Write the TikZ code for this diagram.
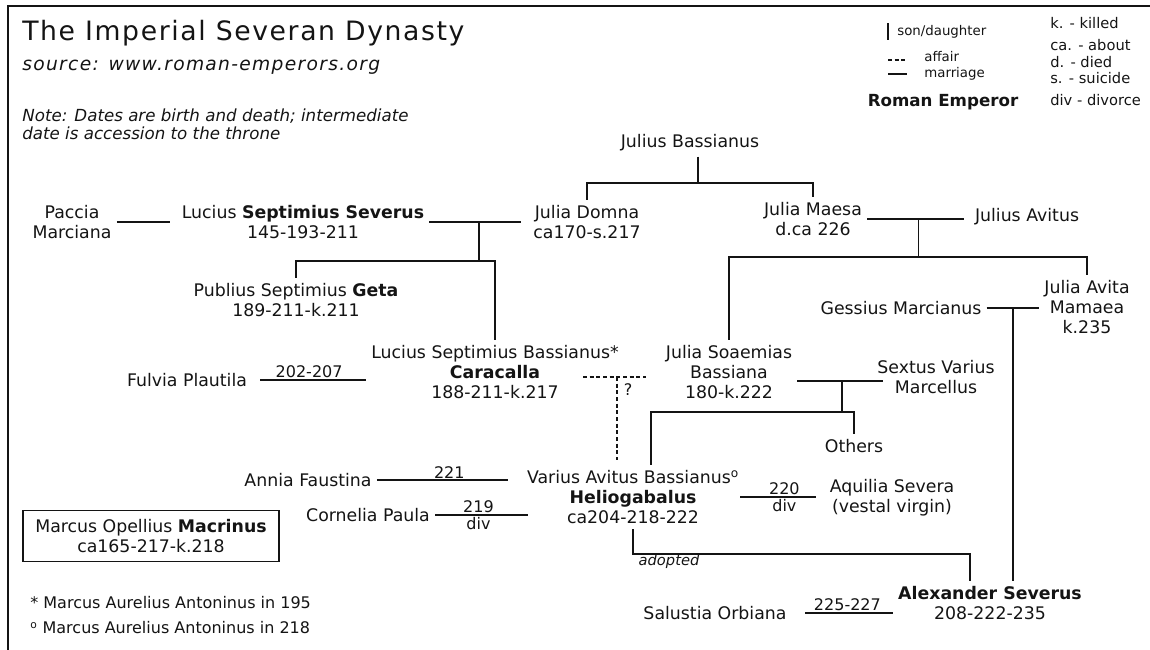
\documentclass[tikz,border=0pt]{standalone}
\usepackage{fontspec}
\setmainfont{DejaVu Sans}
\newfontfamily\headfont[LetterSpace=6]{DejaVu Sans}
\newfontfamily\srcfont[LetterSpace=7]{DejaVu Sans}
\definecolor{famK}{RGB}{20,20,20}

\begin{document}
\begin{tikzpicture}[x=0.75pt,y=-0.75pt,
  every node/.style={inner sep=1pt,outer sep=3pt,align=center,text=famK,font=\fontsize{13}{15}\selectfont},
  kin/.style={line width=1.3pt,draw=famK},
  fling/.style={kin,line width=1.1pt,dash pattern=on 3pt off 2pt},
  yrs/.style={font=\fontsize{12}{14}\selectfont,inner sep=0.5pt,outer sep=1pt},
  keytxt/.style={anchor=west,font=\fontsize{10}{12}\selectfont},
  abbr/.style={anchor=west,font=\fontsize{11}{13}\selectfont}]
\useasboundingbox (0,0) rectangle (1150,650);
\draw[line width=1.8pt,famK] (1150,6) -- (8,6) -- (8,650);

\node[anchor=west,font=\headfont\fontsize{20}{24}\selectfont] (title) at (17,33) {The Imperial Severan Dynasty};
\node[anchor=west,font=\srcfont\itshape\fontsize{14}{16}\selectfont] (source) at (17,67) {source: www.roman-emperors.org};
\node[anchor=west,align=left,font=\itshape\fontsize{12.5}{13.5}\selectfont] (datenote) at (17,124) {Note: Dates are birth and death; intermediate\\date is accession to the throne};

\draw[kin] (888,23) -- (888,40);
\node[keytxt] (kson) at (892,32) {son/daughter};
\draw[fling] (888,60) -- (907,60);
\node[keytxt] (kaffair) at (919,57) {affair};
\draw[kin] (888,74) -- (907,74);
\node[keytxt] (kmarriage) at (919,74) {marriage};
\node[font=\bfseries\fontsize{12.5}{15}\selectfont] (kemperor) at (943,102) {Roman Emperor};
\node[abbr] (kkilled) at (1045,23) {k. - killed};
\node[abbr] (kabout) at (1045,45) {ca. - about};
\node[abbr] (kdied) at (1045,62) {d. - died};
\node[abbr] (ksuicide) at (1045,78) {s. - suicide};
\node[abbr] (kdivorce) at (1045,100) {div - divorce};

\node (jb) at (690,143) {Julius Bassianus};
\node (domna) at (587,222) {Julia Domna\\ca170-s.217};
\node (maesa) at (813,219) {Julia Maesa\\d.ca 226};
\node (avitus) at (1027,217) {Julius Avitus};
\node (paccia) at (72,222) {Paccia\\Marciana};
\node (lss) at (303,222) {Lucius \textbf{Septimius Severus}\\145-193-211};
\node (geta) at (296,300) {Publius Septimius \textbf{Geta}\\189-211-k.211};
\node (cara) at (495,372) {Lucius Septimius Bassianus*\\\textbf{Caracalla}\\188-211-k.217};
\node (fulvia) at (187,380) {Fulvia Plautila};
\node (soaem) at (729,372) {Julia Soaemias\\Bassiana\\180-k.222};
\node (sextus) at (936,377) {Sextus Varius\\Marcellus};
\node (gessius) at (901,308) {Gessius Marcianus};
\node (mamaea) at (1087,307) {Julia Avita\\Mamaea\\k.235};
\node (others) at (854,446) {Others};
\node (helio) at (633,497) {Varius Avitus Bassianus\textsuperscript{o}\\\textbf{Heliogabalus}\\ca204-218-222};
\node (aquilia) at (892,498) {Aquilia Severa\\(vestal virgin)};
\node (annia) at (308,480) {Annia Faustina};
\node (cornelia) at (368,515) {Cornelia Paula};
\node[draw=famK,line width=1.2pt,minimum width=192pt,minimum height=38pt,outer sep=0pt] (macrinus) at (151,536) {Marcus Opellius \textbf{Macrinus}\\ca165-217-k.218};
\node (alex) at (990,603) {\textbf{Alexander Severus}\\208-222-235};
\node (salustia) at (715,613) {Salustia Orbiana};
\node[font=\itshape\fontsize{11}{13}\selectfont] (adopt) at (669,561) {adopted};
\node[font=\fontsize{12}{14}\selectfont] (qmark) at (628,390) {?};
\node[anchor=west,font=\fontsize{12}{14}\selectfont] (fnstar) at (25,603) {* Marcus Aurelius Antoninus in 195};
\node[anchor=west,font=\fontsize{12}{14}\selectfont] (fnring) at (25,628) {\textsuperscript{o} Marcus Aurelius Antoninus in 218};

\coordinate (jbk) at (698,183);
\draw[kin] (jbk |- jb.south) -- (jbk);
\draw[kin] (domna.north) |- (jbk) -| (maesa.north);
\draw[kin,shorten >=5pt] (paccia.east) -- (paccia.east -| lss.west);
\draw[kin,shorten >=5pt] (lss.east) -- coordinate[midway] (lssk) (lss.east -| domna.west);
\draw[kin] (lssk) -- ++(0,39) coordinate (lssj);
\draw[kin] (geta.north) |- (lssj) -| (cara.north);
\draw[kin,shorten <=6pt] (fulvia.east) -- node[above,yrs] (y202) {202-207} (fulvia.east -| cara.west);
\draw[kin,shorten >=4pt] (maesa.east) -- coordinate[midway] (maek) (maesa.east -| avitus.west);
\draw[kin] (maek) -- ++(0,38) coordinate (maej);
\draw[kin] (soaem.north) |- (maej) -| (mamaea.north);
\draw[kin] (gessius.east) -- coordinate[midway] (gesk) (gessius.east -| mamaea.west);
\draw[kin] (gesk) -- (gesk |- alex.north);
\draw[kin,shorten >=-8pt] ([yshift=-6.5pt]soaem.east) -- coordinate[pos=0.6] (sxk) ([yshift=-6.5pt]soaem.east -| sextus.west);
\draw[kin] (sxk) -- ++(0,31) coordinate (sxj);
\draw[kin] (others.north) |- (sxj) -| ([xshift=13.5pt]helio.north);
\coordinate (affl) at (583,377);
\coordinate (affk) at (617,377);
\draw[fling,shorten >=11pt] (affl) -- (affl -| soaem.west);
\draw[fling,shorten >=4pt] (affk) -- (affk |- helio.north);
\draw[kin,shorten <=-3pt,shorten >=6pt] (helio.east) -- node[above,yrs] (y220) {220} node[below,yrs] (d220) {div} (helio.east -| aquilia.west);
\draw[kin,shorten >=10pt] (annia.east) -- node[above,yrs] (y221) {221} (annia.east -| helio.west);
\draw[kin,shorten >=-5pt] (cornelia.east) -- node[above,yrs] (y219) {219} node[below,yrs] (d219) {div} (cornelia.east -| helio.west);
\draw[kin,shorten <=10pt] (salustia.east) -- node[above,yrs,pos=0.55] (y225) {225-227} (salustia.east -| alex.west);
\draw[kin] (helio.south) -- ++(0,25) coordinate (adk) -| ([xshift=-15pt]alex.north);
\end{tikzpicture}
\end{document}
